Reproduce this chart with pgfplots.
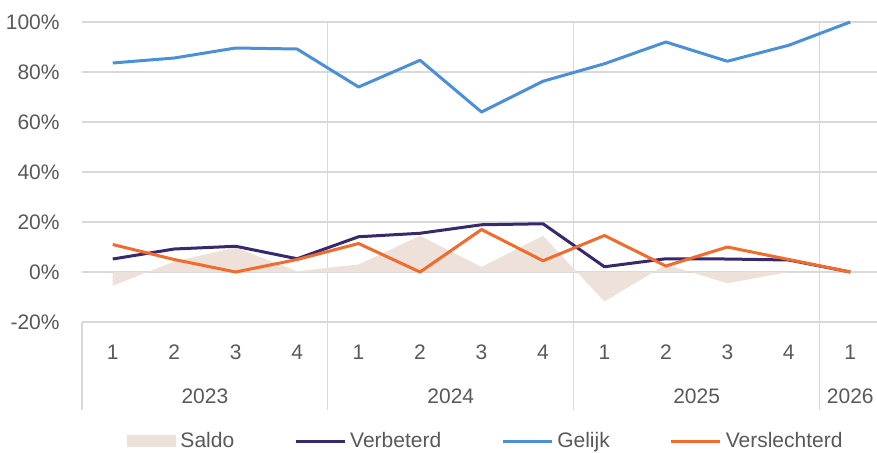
\documentclass[border=0pt]{standalone}
\usepackage{fontspec}
\setmainfont{Liberation Sans}
\usepackage{pgfplots}
\pgfplotsset{compat=1.18}

\definecolor{saldo}{RGB}{237,225,218}
\definecolor{verbeterd}{RGB}{56,40,110}
\definecolor{gelijk}{RGB}{74,144,217}
\definecolor{verslechterd}{RGB}{242,107,43}
\definecolor{gridgray}{RGB}{217,217,217}
\definecolor{txtgray}{RGB}{89,89,89}

\begin{document}
\begin{tikzpicture}
\useasboundingbox (-41pt,-65pt) rectangle (397.5pt,161pt);
\begin{axis}[
    at={(0,0)}, anchor=south west,
    scale only axis,
    width=399.5pt, height=150pt,
    xmin=0.5, xmax=13.5,
    ymin=-20, ymax=100,
    xtick={1,...,13},
    xticklabels={1,2,3,4,1,2,3,4,1,2,3,4,1},
    ytick={-20,0,...,100},
    yticklabel={\pgfmathprintnumber{\tick}\%},
    /pgf/number format/assume math mode=true,
    major tick length=0pt,
    axis line style={draw=none},
    ymajorgrids,
    grid style={gridgray, line width=0.75pt},
    extra x ticks={4.5,8.5,12.5},
    extra x tick labels={},
    extra x tick style={xmajorgrids, grid style={gridgray, line width=0.6pt}},
    font=\fontsize{10.5}{12}\selectfont,
    tick label style={text=txtgray},
    yticklabel style={anchor=east, inner sep=0pt, xshift=-11pt},
    xticklabel style={anchor=center, inner sep=0pt, yshift=-15pt},
    clip=false,
    legend columns=4,
    legend style={
        at={(axis description cs:0,0)}, anchor=center,
        xshift=202.5pt, yshift=-59.5pt,
        draw=none, fill=none,
        text=txtgray,
        font=\fontsize{10.5}{12}\selectfont,
        /tikz/every even column/.append style={column sep=28pt},
        cells={anchor=west, inner xsep=2pt},
    },
]
\addplot[fill=saldo, draw=none, area legend,
    legend image code/.code={\fill[saldo] (0pt,-3pt) rectangle (24.5pt,3pt);}]
    coordinates {
    (1,-5.5) (2,4.2) (3,9.8) (4,0.3) (5,3) (6,14.5) (7,2)
    (8,14.5) (9,-11.8) (10,3) (11,-4.5) (12,0) (13,0)
} \closedcycle;
\addlegendentry{Saldo}

\pgfplotsset{every axis plot/.append style={
    legend image code/.code={\draw[#1] (0pt,0pt) -- (24.5pt,0pt);}}}

\addplot[verbeterd, line width=1.5pt, line join=round] coordinates {
    (1,5.2) (2,9.2) (3,10.3) (4,5.3) (5,14.1) (6,15.5) (7,18.9)
    (8,19.3) (9,2.1) (10,5.3) (11,5.2) (12,4.8) (13,0)
};
\addlegendentry{Verbeterd}

\addplot[gelijk, line width=1.5pt, line join=round] coordinates {
    (1,83.6) (2,85.6) (3,89.6) (4,89.2) (5,74) (6,84.7) (7,64)
    (8,76.3) (9,83.3) (10,92) (11,84.3) (12,90.7) (13,100)
};
\addlegendentry{Gelijk}

\addplot[verslechterd, line width=1.5pt, line join=round] coordinates {
    (1,11) (2,5) (3,0) (4,5) (5,11.4) (6,0) (7,17)
    (8,4.5) (9,14.6) (10,2.4) (11,10) (12,5) (13,0)
};
\addlegendentry{Verslechterd}

% category table below the plot
\draw[gridgray, line width=0.6pt] (axis cs:0.5,-20) -- ([yshift=-44pt]axis cs:0.5,-20);
\draw[gridgray, line width=0.6pt] (axis cs:4.5,-20) -- ([yshift=-44pt]axis cs:4.5,-20);
\draw[gridgray, line width=0.6pt] (axis cs:8.5,-20) -- ([yshift=-44pt]axis cs:8.5,-20);
\draw[gridgray, line width=0.6pt] (axis cs:12.5,-20) -- ([yshift=-44pt]axis cs:12.5,-20);
\node[text=txtgray, yshift=-37pt] at (axis cs:2.5,-20) {2023};
\node[text=txtgray, yshift=-37pt] at (axis cs:6.5,-20) {2024};
\node[text=txtgray, yshift=-37pt] at (axis cs:10.5,-20) {2025};
\node[text=txtgray, yshift=-37pt] at (axis cs:13,-20) {2026};
\end{axis}
\end{tikzpicture}
\end{document}
